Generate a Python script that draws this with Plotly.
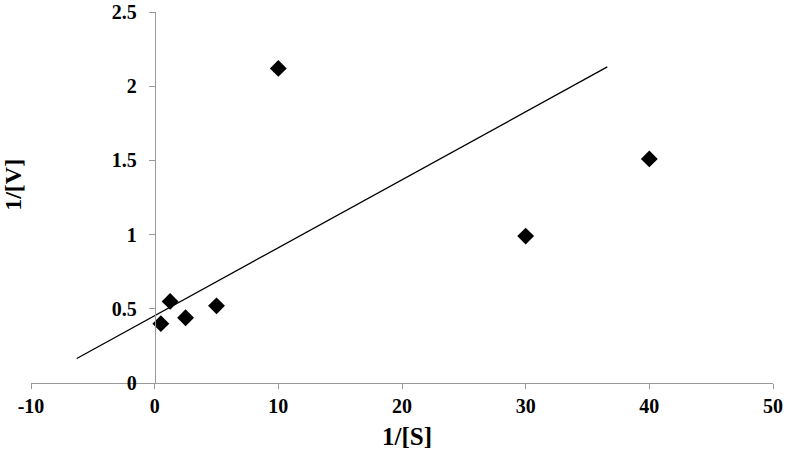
import plotly.graph_objects as go

# measured points
inv_s = [0.5, 1.25, 2.5, 5, 10, 30, 40]
inv_v = [0.40, 0.55, 0.44, 0.52, 2.12, 0.99, 1.51]

# trend line ends as drawn
trend_x = [-6.3, 36.6]
trend_y = [0.165, 2.13]

x_ticks = [-10, 0, 10, 20, 30, 40, 50]
x_labels = ["-10", "0", "10", "20", "30", "40", "50"]
y_ticks = [0, 0.5, 1, 1.5, 2, 2.5]
y_labels = ["0", "0.5", "1", "1.5", "2", "2.5"]

FONT = "Liberation Serif, Times New Roman, serif"
AXIS_GRAY = "#9a9a9a"

fig = go.Figure()

fig.add_trace(
    go.Scatter(
        x=trend_x,
        y=trend_y,
        mode="lines",
        line=dict(color="black", width=1.3),
        showlegend=False,
        hoverinfo="skip",
    )
)
fig.add_trace(
    go.Scatter(
        x=inv_s,
        y=inv_v,
        mode="markers",
        marker=dict(symbol="diamond", size=13, color="black"),
        showlegend=False,
    )
)

fig.update_layout(
    width=786,
    height=452,
    margin=dict(l=31, r=13, t=12, b=69, autoexpand=False),
    paper_bgcolor="white",
    plot_bgcolor="white",
    font=dict(family=FONT, color="black"),
    xaxis=dict(
        range=[-10, 50],
        tickvals=x_ticks,
        ticktext=x_labels,
        showgrid=False,
        zeroline=False,
        showline=True,
        linecolor=AXIS_GRAY,
        linewidth=1,
        ticks="outside",
        ticklen=5,
        tickcolor=AXIS_GRAY,
        tickfont=dict(size=20, family=FONT, weight="bold"),
        ticklabeloverflow="allow",
        automargin=False,
    ),
    yaxis=dict(
        range=[0, 2.5],
        tickvals=y_ticks,
        ticktext=y_labels,
        showgrid=False,
        zeroline=False,
        showline=True,
        linecolor=AXIS_GRAY,
        linewidth=1,
        ticks="outside",
        ticklen=6,
        tickcolor=AXIS_GRAY,
        tickfont=dict(size=20, family=FONT, weight="bold"),
        ticklabelstandoff=8,
        ticklabeloverflow="allow",
        anchor="free",
        position=1 / 6,
        automargin=False,
    ),
    annotations=[
        dict(
            text="<b>1/[S]</b>",
            xref="paper",
            yref="paper",
            x=0.507,
            y=-0.143,
            xanchor="center",
            yanchor="middle",
            showarrow=False,
            font=dict(size=25, family=FONT),
        ),
        dict(
            text="<b>1/[V]</b>",
            xref="paper",
            yref="paper",
            x=-0.0243,
            y=0.534,
            xanchor="center",
            yanchor="middle",
            textangle=-90,
            showarrow=False,
            font=dict(size=24, family=FONT),
        ),
    ],
)

# page body has a default 8px margin; drop it so the figure fills the window
fig.write_html(
    "out.html",
    config={"displayModeBar": False},
    post_script="document.body.style.margin='0';",
)
